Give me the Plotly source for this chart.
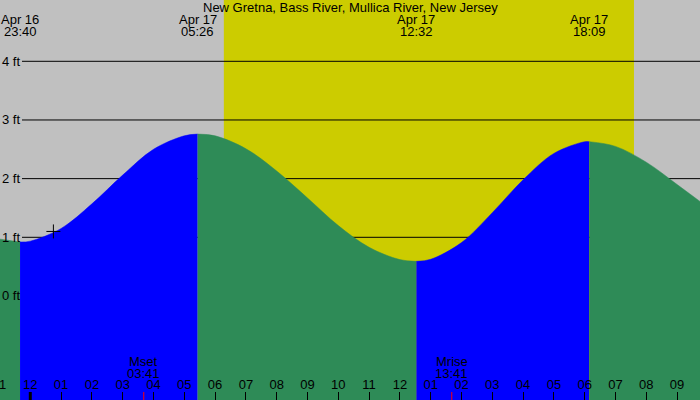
import plotly.graph_objects as go

# ---------------- data ----------------
station = "New Gretna, Bass River, Mullica River, New Jersey"

tide_times = [
    "2024-04-16 23:00", "2024-04-16 23:40",
    "2024-04-17 00:00", "2024-04-17 01:00", "2024-04-17 02:00", "2024-04-17 03:00",
    "2024-04-17 04:00", "2024-04-17 05:00", "2024-04-17 05:26",
    "2024-04-17 06:00", "2024-04-17 07:00", "2024-04-17 08:00", "2024-04-17 09:00",
    "2024-04-17 10:00", "2024-04-17 11:00", "2024-04-17 12:00", "2024-04-17 12:32",
    "2024-04-17 13:00", "2024-04-17 14:00", "2024-04-17 15:00", "2024-04-17 16:00",
    "2024-04-17 17:00", "2024-04-17 18:00", "2024-04-17 18:09",
    "2024-04-17 19:00", "2024-04-17 20:00", "2024-04-17 21:00", "2024-04-17 22:00",
]
tide_ft = [
    0.97, 0.92,
    0.935, 1.15, 1.57, 2.06,
    2.50, 2.73, 2.76,
    2.73, 2.51, 2.13, 1.67,
    1.20, 0.83, 0.62, 0.59,
    0.625, 0.91, 1.42, 1.98,
    2.43, 2.63, 2.63,
    2.55, 2.28, 1.90, 1.51,
]

extreme_times = ["2024-04-16 23:40", "2024-04-17 05:26", "2024-04-17 12:32", "2024-04-17 18:09"]
extreme_dates = ["Apr 16", "Apr 17", "Apr 17", "Apr 17"]
extreme_clock = ["23:40", "05:26", "12:32", "18:09"]

sunrise = "2024-04-17 06:17"
sunset = "2024-04-17 19:36"

moon_times = ["2024-04-17 03:41", "2024-04-17 13:41"]
moon_events = ["Mset", "Mrise"]
moon_clock = ["03:41", "13:41"]

now_time = "2024-04-17 00:45"
now_ft = 1.10

hour_times = [
    "2024-04-16 23:00", "2024-04-17 00:00", "2024-04-17 01:00", "2024-04-17 02:00",
    "2024-04-17 03:00", "2024-04-17 04:00", "2024-04-17 05:00", "2024-04-17 06:00",
    "2024-04-17 07:00", "2024-04-17 08:00", "2024-04-17 09:00", "2024-04-17 10:00",
    "2024-04-17 11:00", "2024-04-17 12:00", "2024-04-17 13:00", "2024-04-17 14:00",
    "2024-04-17 15:00", "2024-04-17 16:00", "2024-04-17 17:00", "2024-04-17 18:00",
    "2024-04-17 19:00", "2024-04-17 20:00", "2024-04-17 21:00",
]
hour_labels = ["11", "12", "01", "02", "03", "04", "05", "06", "07", "08", "09", "10",
               "11", "12", "01", "02", "03", "04", "05", "06", "07", "08", "09"]
midnight = "2024-04-17 00:00"

ft_levels = [0, 1, 2, 3, 4]
ft_labels = ["0 ft", "1 ft", "2 ft", "3 ft", "4 ft"]

# ---------------- style ----------------
GREY = "rgb(192,192,192)"
YELLOW = "rgb(204,204,0)"
GREEN = "rgb(46,139,87)"
BLUE = "rgb(0,0,255)"
FONT = "Liberation Sans, Arial, sans-serif"
W, H = 700, 400
X_RANGE = ["2024-04-16 23:00:58", "2024-04-17 21:44:37"]
Y_RANGE = [-1.773, 5.045]
BOTTOM = -2.5
HOUR_LABEL_Y = -1.534

fig = go.Figure()

# tide fill segments, split at the extremes
idx = [tide_times.index(t) for t in extreme_times]
bounds = [0] + idx + [len(tide_times) - 1]
for a, b in zip(bounds[:-1], bounds[1:]):
    xs = tide_times[a:b + 1]
    ys = tide_ft[a:b + 1]
    color = BLUE if ys[-1] > ys[0] else GREEN
    fig.add_trace(go.Scatter(x=[xs[0], xs[-1]], y=[BOTTOM, BOTTOM], mode="lines",
                             line=dict(width=0), hoverinfo="skip", showlegend=False))
    fig.add_trace(go.Scatter(x=xs, y=ys, mode="lines",
                             line=dict(width=0.5, color=color, shape="spline"),
                             fill="tonexty", fillcolor=color,
                             hoverinfo="skip", showlegend=False))

# hour labels
fig.add_trace(go.Scatter(x=hour_times, y=[HOUR_LABEL_Y] * len(hour_times), mode="text",
                         text=hour_labels, textposition="middle center",
                         textfont=dict(family=FONT, size=13, color="black"),
                         cliponaxis=True, hoverinfo="skip", showlegend=False))

# current-time cross
fig.add_trace(go.Scatter(x=[now_time], y=[now_ft], mode="markers",
                         marker=dict(symbol="cross-thin", size=10, color="black",
                                     line=dict(width=1, color="black")),
                         hoverinfo="skip", showlegend=False))

shapes = [dict(type="rect", xref="x", yref="paper", x0=sunrise, x1=sunset, y0=0, y1=1,
               fillcolor=YELLOW, line=dict(width=0), layer="below")]
for lv in ft_levels[1:]:
    shapes.append(dict(type="line", xref="paper", yref="y", x0=22 / W, x1=1, y0=lv, y1=lv,
                       line=dict(color="black", width=1), layer="between"))
shapes.append(dict(type="line", xref="x", yref="paper", x0=midnight, x1=midnight,
                   y0=0, y1=8 / H, line=dict(color="black", width=3)))
for t in moon_times:
    shapes.append(dict(type="line", xref="x", yref="paper", x0=t, x1=t,
                       y0=0, y1=8 / H, line=dict(color="red", width=1)))

ann = []
ann.append(dict(text=station, xref="paper", yref="paper", x=0.5, y=1 - 7.5 / H,
                xanchor="center", yanchor="middle", showarrow=False, borderpad=0))
for t, d, c in zip(extreme_times, extreme_dates, extreme_clock):
    ann.append(dict(text=d, xref="x", yref="paper", x=t, y=1 - 19.5 / H,
                    xanchor="center", yanchor="middle", showarrow=False, borderpad=0))
    ann.append(dict(text=c, xref="x", yref="paper", x=t, y=1 - 31.5 / H,
                    xanchor="center", yanchor="middle", showarrow=False, borderpad=0))
for t, e, c in zip(moon_times, moon_events, moon_clock):
    ann.append(dict(text=e, xref="x", yref="paper", x=t, y=1 - 361.5 / H,
                    xanchor="center", yanchor="middle", showarrow=False, borderpad=0))
    ann.append(dict(text=c, xref="x", yref="paper", x=t, y=1 - 373.5 / H,
                    xanchor="center", yanchor="middle", showarrow=False, borderpad=0))
for lv, lb in zip(ft_levels, ft_labels):
    ann.append(dict(text=lb, xref="paper", yref="y", x=1 / W, y=lv,
                    xanchor="left", yanchor="middle", showarrow=False, borderpad=0))

fig.update_layout(
    width=W, height=H,
    margin=dict(l=0, r=0, t=0, b=0, pad=0),
    paper_bgcolor=GREY, plot_bgcolor=GREY,
    font=dict(family=FONT, size=13, color="black"),
    shapes=shapes, annotations=ann, showlegend=False,
    xaxis=dict(type="date", range=X_RANGE, showgrid=False, zeroline=False, showline=False,
               ticks="inside", ticklen=8, tickwidth=1, tickcolor="black",
               tick0=midnight, dtick=3600000, showticklabels=False, fixedrange=True),
    yaxis=dict(range=Y_RANGE, showgrid=False, zeroline=False, showline=False,
               showticklabels=False, ticks="", fixedrange=True),
)

fig.write_html("out.html", config={"displayModeBar": False},
               post_script="document.body.style.margin='0';document.body.style.padding='0';")
